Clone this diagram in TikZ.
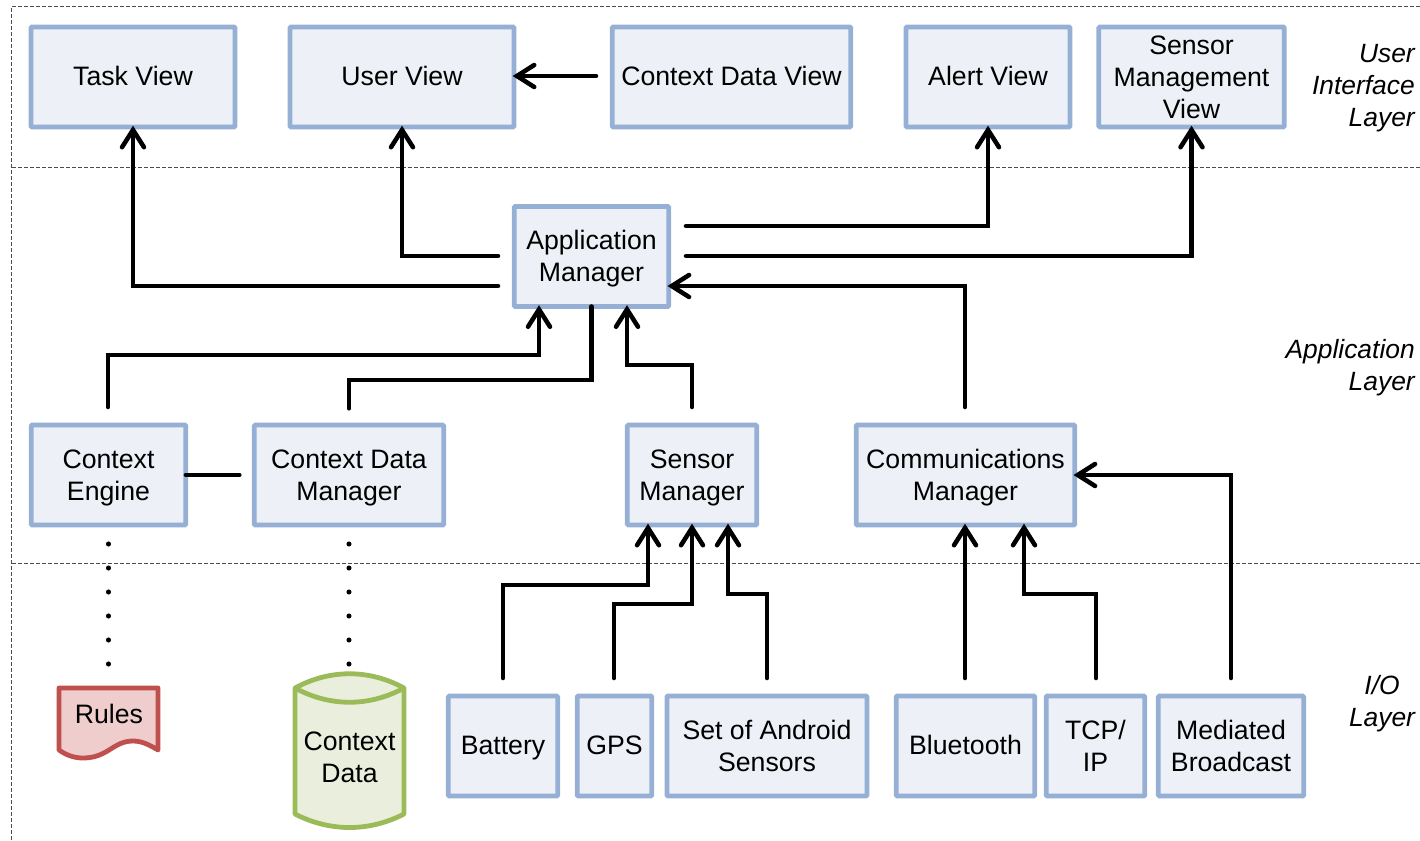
\documentclass[tikz,border=0pt]{standalone}
\usepackage{fontspec}
\setmainfont{Liberation Sans}
\usetikzlibrary{arrows,arrows.meta}
\definecolor{boxline}{HTML}{95B0D4}
\definecolor{boxfill}{HTML}{EDF0F6}
\definecolor{rulesline}{HTML}{C0504D}
\definecolor{rulesfill}{HTML}{EFCDCC}
\definecolor{dataline}{HTML}{9BBB59}
\definecolor{datafill}{HTML}{EAEFDD}
\newcommand{\boxstrut}{\rule[-4.7pt]{0pt}{22.2pt}}
\newcommand{\linetop}{\rule{0pt}{18.2pt}}

\begin{document}
\begin{tikzpicture}[x=0.75pt, y=-0.75pt, > = {Straight Barb[length=13pt,width=16.5pt,line cap=round]},
    font=\fontsize{20}{24}\selectfont,
    boxtext/.style = {inner sep=0pt, align=center, execute at begin node=\boxstrut},
    box/.style = {boxtext, draw=boxline, fill=boxfill, line width=3.6pt, rounded corners=0.8pt, outer sep=0pt, minimum height=75pt},
    link/.style = {line width=3.4pt, line cap=round, black, shorten >=-1pt},
    dots/.style = {line width=3.8pt, line cap=round, dash pattern=on 0pt off 18pt},
    layer/.style = {dash pattern=on 3pt off 1.5pt, line width=0.6pt, black!70},
    caption/.style = {anchor=east, align=right, font=\fontsize{19.8}{24}\selectfont\itshape, inner sep=0pt}]
    \useasboundingbox (0,0) rectangle (1420,840);

    % layers
    \draw[layer] (1420,6.5) -- (11.5,6.5) -- (11.5,840);
    \draw[layer] (11.5,167) -- (1420,167);
    \draw[layer] (11.5,563) -- (1420,563);
    \node[caption] (uilayer) at (1415,88) {User\\Interface\\Layer};
    \node[caption] (applayer) at (1415,368) {Application\\Layer};
    \node[caption, align=center, anchor=center] (iolayer) at (1382,704) {I/O\\Layer};

    % user interface
    \node[box, minimum width=153pt] (taskview) at (133,77) {Task View};
    \node[box, minimum width=168pt] (userview) at (402,77) {User View};
    \node[box, minimum width=179pt] (dataview) at (731.5,77) {Context Data View};
    \node[box, minimum width=123pt] (alertview) at (988,77) {Alert View};
    \node[box, minimum width=139pt] (sensorview) at (1191.5,77) {\linetop Sensor\\Management\\View};

    % application
    \node[box, minimum width=116pt] (appmgr) at (591.5,256.5) {\linetop Application\\Manager};
    \node[box, minimum width=116pt] (engine) at (108.5,475) {\linetop Context\\Engine};
    \node[box, minimum width=142pt] (datamgr) at (349,475) {\linetop Context Data\\Manager};
    \node[box, minimum width=97pt] (sensormgr) at (692,475) {\linetop Sensor\\Manager};
    \node[box, minimum width=164pt] (commmgr) at (965.5,475) {\linetop Communications\\Manager};

    % i/o
    \node[box, minimum width=82pt] (battery) at (503,746) {Battery};
    \node[box, minimum width=56pt] (gps) at (614.5,746) {GPS};
    \node[box, minimum width=150pt] (android) at (767,746) {\linetop Set of Android\\Sensors};
    \node[box, minimum width=104pt] (bluetooth) at (965.5,746) {Bluetooth};
    \node[box, minimum width=74pt] (tcpip) at (1095.5,746) {\linetop TCP/\\IP};
    \node[box, minimum width=109pt] (mediated) at (1231,746) {\linetop Mediated\\Broadcast};

    % stores
    \draw[rulesline, fill=rulesfill, line width=3.6pt, line join=round] (59,688) -- (158,688) -- (158,750)
        .. controls (148,744) and (141,741) .. (133,741)
        .. controls (113,741) and (108,758) .. (83,758)
        .. controls (74,758) and (66,755) .. (59,750) -- cycle;
    \node[boxtext] (rules) at (109,715) {Rules};
    \draw[dataline, fill=datafill, line width=3.6pt, line join=round] (295,688)
        .. controls (330,669) and (369,669) .. (404,688) -- (404,814)
        .. controls (369,832) and (330,832) .. (295,814) -- cycle;
    \draw[dataline, line width=3.6pt, line join=round] (295,688) .. controls (330,707) and (369,707) .. (404,688);
    \node[boxtext] (contextdata) at (349.5,757.5) {\linetop Context\\Data};

    % stubs
    \coordinate (taskout) at (498,286);
    \coordinate (userout) at (498,256);
    \coordinate (dataout) at (596,76);
    \coordinate (alertout) at (686,226);
    \coordinate (sensorout) at (686,256);
    \coordinate (commout) at (965,407);
    \coordinate (sensorup) at (692,407);
    \coordinate (dataup) at (349,407);
    \coordinate (engineup) at (108,407);
    \coordinate (enginegap) at (238,475);
    \coordinate (batteryup) at (503,678);
    \coordinate (gpsup) at (614,678);
    \coordinate (androidup) at (767,678);
    \coordinate (blueup) at (965,678);
    \coordinate (tcpup) at (1096,678);
    \coordinate (mediatedup) at (1231,678);

    % connectors
    \draw[link, ->] (taskout) -| (taskview.south);
    \draw[link, ->] (userout) -| (userview.south);
    \draw[link, ->] (dataout) -- (userview.east |- dataout);
    \draw[link, ->] (alertout) -| (alertview.south);
    \draw[link, ->] (sensorout) -| (sensorview.south);
    \draw[link, ->] (commout) |- (appmgr.east |- taskout);
    \draw[link, ->] (sensorup) |- (627,365) -- (appmgr.south -| 627,0);
    \draw[link, ->] (engineup) |- (539,355) -- (appmgr.south -| 539,0);
    \draw[link] (appmgr.south) |- (349,380) -- (dataup);
    \draw[link] (engine.east) -- (enginegap);
    \draw[link, ->] (batteryup) |- (648,585) -- (sensormgr.south -| 648,0);
    \draw[link, ->] (gpsup) |- (692,604) -- (sensormgr.south);
    \draw[link, ->] (androidup) |- (728,594) -- (sensormgr.south -| 728,0);
    \draw[link, ->] (blueup) -- (commmgr.south -| blueup);
    \draw[link, ->] (tcpup) |- (1024,594) -- (commmgr.south -| 1024,0);
    \draw[link, ->] (mediatedup) |- (commmgr.east);

    % dotted
    \draw[dots] (engine.south |- 0,544) -- (engine.south |- 0,665);
    \draw[dots] (datamgr.south |- 0,544) -- (datamgr.south |- 0,665);
\end{tikzpicture}
\end{document}
